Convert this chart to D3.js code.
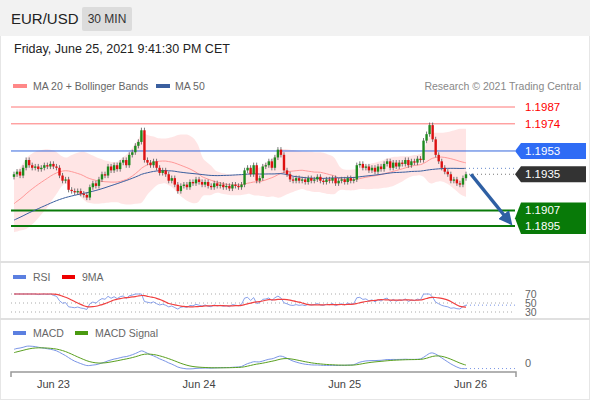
<!DOCTYPE html>
<html><head><meta charset="utf-8">
<script src="https://cdn.jsdelivr.net/npm/d3@7"></script>
<style>body{margin:0;background:#fff;font-family:"Liberation Sans",Arial,sans-serif}</style>
</head><body><svg id="c" width="590" height="400"></svg>
<script>
// closes before the visible window (used only for indicators)
const history=[1.1880,1.1882,1.1879,1.1884,1.1886,1.1883,1.1887,1.1889,1.1886,1.1888,
1.1890,1.1888,1.1891,1.1889,1.1892,1.1890,1.1893,1.1891,1.1894,1.1892,
1.1895,1.1893,1.1896,1.1894,1.1897,1.1895,1.1898,1.1896,1.1899,1.1897,
1.1900,1.1898,1.1901,1.1903,1.1900,1.1904,1.1902,1.1906,1.1905,1.1908,
1.1910,1.1912,1.1909,1.1914,1.1917,1.1915,1.1920,1.1924,1.1928,1.1933];
const closes=[1.1935,1.1937,1.1934,1.1940,1.1946,
1.1942,1.1940,1.1941,1.1939,1.1940,1.1942,1.1941,1.1943,1.1941,1.1940,
1.1934,1.1930,1.1931,1.1923,
1.1922,1.1921,1.1922,1.1920,1.1919,1.1917,
1.1925,1.1928,1.1926,1.1931,1.1935,
1.1934,1.1941,1.1938,1.1942,1.1939,1.1944,
1.1946,1.1942,1.1950,1.1952,1.1957,1.1960,1.1969,
1.1946,1.1944,1.1942,1.1945,1.1940,1.1936,1.1938,1.1935,
1.1930,1.1932,1.1927,
1.1922,1.1926,1.1927,1.1925,1.1929,1.1928,1.1931,1.1929,1.1927,1.1929,1.1926,1.1925,1.1928,1.1926,1.1927,1.1925,1.1926,1.1924,1.1927,1.1926,1.1925,1.1927,
1.1938,1.1940,1.1935,1.1942,1.1930,1.1932,1.1941,1.1942,
1.1945,1.1940,1.1948,1.1954,
1.1950,1.1938,1.1935,1.1931,
1.1930,1.1932,1.1930,1.1931,1.1929,1.1932,1.1930,1.1931,1.1933,1.1930,1.1929,1.1931,1.1930,1.1932,1.1928,1.1930,1.1931,1.1929,1.1932,1.1930,1.1931,
1.1942,1.1943,1.1940,1.1941,1.1938,1.1940,1.1937,1.1941,1.1939,1.1943,1.1945,1.1940,1.1944,1.1941,1.1944,
1.1943,1.1946,1.1942,1.1945,1.1944,1.1947,1.1946,
1.1961,1.1966,1.1973,1.1962,1.1950,
1.1945,1.1940,1.1937,1.1935,1.1930,1.1931,1.1928,1.1927,1.1932,1.1935];
const wick=0.0002;
const resist=[1.1987,1.1974];
const pivot=1.1953;
const lastPrice=1.1935;
const support=[1.1907,1.1895];
const dayLabels=["Jun 23","Jun 24","Jun 25","Jun 26"];
const dayIdx=[13,61,109,150.5];
const rsiLevels=[70,50,30];

const svg=d3.select("#c");
svg.append("rect").attr("x",0.5).attr("y",0.5).attr("width",589).attr("height",399).attr("fill","#fff").attr("stroke","#e6e6e6");
svg.append("rect").attr("x",0).attr("y",0).attr("width",590).attr("height",36).attr("fill","#f2f2f2");
svg.append("text").attr("x",11).attr("y",24).text("EUR/USD").attr("font-size",15).attr("fill","#222");
svg.append("rect").attr("x",82).attr("y",7).attr("width",50).attr("height",24).attr("fill","#dcdcdc").attr("rx",2);
svg.append("text").attr("x",107).attr("y",23).attr("text-anchor","middle").text("30 MIN").attr("font-size",12).attr("fill","#333");
svg.append("text").attr("x",14).attr("y",53).text("Friday, June 25, 2021 9:41:30 PM CET").attr("font-size",12.5).attr("fill","#222");
svg.append("rect").attr("x",13).attr("y",84).attr("width",14).attr("height",4).attr("fill","#f88");
svg.append("text").attr("x",33).attr("y",90).text("MA 20 + Bollinger Bands").attr("font-size",10.5).attr("fill","#666");
svg.append("rect").attr("x",156).attr("y",84).attr("width",14).attr("height",4).attr("fill","#3a5f9f");
svg.append("text").attr("x",175).attr("y",90).text("MA 50").attr("font-size",10.5).attr("fill","#666");
svg.append("text").attr("x",581).attr("y",90).attr("text-anchor","end").text("Research © 2021 Trading Central").attr("font-size",10.5).attr("fill","#888");

const n=closes.length, H=history.length;
const all=history.concat(closes);
const x=d3.scaleLinear().domain([0,n-1]).range([14,466]);
const y=d3.scaleLinear().domain([1.1895,1.1987]).range([226,107]);
const data=closes.map((c,i)=>{const o=all[H+i-1];return {i,o,c,h:Math.max(o,c)+wick,l:Math.min(o,c)-wick};});
function sma(p){return closes.map((c,i)=>d3.mean(all.slice(H+i-p+1,H+i+1)));}
const ma20=sma(20),ma50=sma(50);
const sd=closes.map((c,i)=>Math.max(d3.deviation(all.slice(H+i-19,H+i+1)),0.0004));
const band=d3.area().x((d,i)=>x(i)).y0((d,i)=>y(ma20[i]-2*sd[i])).y1((d,i)=>y(ma20[i]+2*sd[i])).curve(d3.curveBasis);
svg.append("path").datum(closes).attr("d",band).attr("fill","#ffdede").attr("opacity",0.8);
resist.forEach(v=>{svg.append("line").attr("x1",11).attr("x2",515).attr("y1",y(v)).attr("y2",y(v)).attr("stroke","#f77").attr("stroke-width",1);
 svg.append("text").attr("x",525).attr("y",y(v)+4).text(v.toFixed(4)).attr("fill","#f00").attr("font-size",11.5);});
svg.append("line").attr("x1",11).attr("x2",515).attr("y1",y(pivot)).attr("y2",y(pivot)).attr("stroke","#3366dd");
support.forEach(v=>svg.append("line").attr("x1",11).attr("x2",515).attr("y1",y(v)).attr("y2",y(v)).attr("stroke","#0a7a0a").attr("stroke-width",2.2));
function tag(y0,y1){return `M515,${(y0+y1)/2} L521,${y0} L586,${y0} L586,${y1} L521,${y1} Z`;}
svg.append("path").attr("d",tag(y(pivot)-8,y(pivot)+8)).attr("fill","#2f6cf5");
svg.append("text").attr("x",525).attr("y",y(pivot)+4).text(pivot.toFixed(4)).attr("fill","#fff").attr("font-size",11.5);
svg.append("path").attr("d",tag(y(lastPrice)-8,y(lastPrice)+8)).attr("fill","#333");
svg.append("text").attr("x",525).attr("y",y(lastPrice)+4).text(lastPrice.toFixed(4)).attr("fill","#fff").attr("font-size",11.5);
svg.append("path").attr("d",tag(y(support[0])-8,y(support[1])+8)).attr("fill","#087a08");
support.forEach(v=>svg.append("text").attr("x",525).attr("y",y(v)+4).text(v.toFixed(4)).attr("fill","#fff").attr("font-size",11.5));
svg.append("line").attr("x1",x(n-1)+3).attr("x2",515).attr("y1",y(lastPrice)).attr("y2",y(lastPrice)).attr("stroke","#777").attr("stroke-dasharray","1,3");
svg.append("line").attr("x1",x(n-1)+3).attr("x2",515).attr("y1",y(ma50[n-1])).attr("y2",y(ma50[n-1])).attr("stroke","#6688cc").attr("stroke-dasharray","1,3");
const ln=arr=>d3.line().x((d,i)=>x(i)).y(d=>y(d)).curve(d3.curveBasis)(arr);
svg.append("path").attr("d",ln(ma20)).attr("fill","none").attr("stroke","#f99").attr("stroke-width",1);
svg.append("path").attr("d",ln(ma50)).attr("fill","none").attr("stroke","#3a5f9f").attr("stroke-width",1);
const g=svg.append("g");
g.selectAll("line").data(data).join("line").attr("x1",d=>x(d.i)).attr("x2",d=>x(d.i)).attr("y1",d=>y(d.h)).attr("y2",d=>y(d.l)).attr("stroke","#555").attr("stroke-width",0.8);
g.selectAll("rect").data(data).join("rect").attr("x",d=>x(d.i)-1.2).attr("width",2.4)
 .attr("y",d=>y(Math.max(d.o,d.c))).attr("height",d=>Math.max(1,Math.abs(y(d.o)-y(d.c))))
 .attr("fill",d=>d.c>=d.o?"#1e8a1e":"#dd1111");
svg.append("defs").append("marker").attr("id","ah").attr("viewBox","0 0 10 10").attr("refX",5).attr("refY",5).attr("markerWidth",4).attr("markerHeight",4).attr("orient","auto")
 .append("path").attr("d","M0,0 L10,5 L0,10 Z").attr("fill","#2e5fa3");
svg.append("line").attr("x1",x(n-1)+5).attr("y1",y(lastPrice)).attr("x2",508).attr("y2",y(support[1])-6).attr("stroke","#2e5fa3").attr("stroke-width",3.5).attr("marker-end","url(#ah)");
[262,319].forEach(v=>svg.append("line").attr("x1",0).attr("x2",590).attr("y1",v).attr("y2",v).attr("stroke","#e0e0e0").attr("stroke-width",2));
// RSI
const rsiAll=[];let ag=0,al=0;
all.forEach((c,i)=>{if(i===0){rsiAll.push(50);return;}const d=c-all[i-1];const gn=Math.max(d,0),ls=Math.max(-d,0);
 if(i<=14){ag=(ag*(i-1)+gn)/i;al=(al*(i-1)+ls)/i;}else{ag=(ag*13+gn)/14;al=(al*13+ls)/14;}
 rsiAll.push(al===0?70:100-100/(1+ag/al));});
const rsi=rsiAll.slice(H);
const rsiMA=rsi.map((v,i)=>d3.mean(rsiAll.slice(H+i-8,H+i+1)));
const yr=d3.scaleLinear().domain([30,70]).range([312,294]).clamp(true);
rsiLevels.forEach(v=>{svg.append("line").attr("x1",11).attr("x2",515).attr("y1",yr(v)).attr("y2",yr(v)).attr("stroke","#aaa").attr("stroke-dasharray","1,3");
 svg.append("text").attr("x",525).attr("y",yr(v)+4).text(v).attr("font-size",10.5).attr("fill","#666");});
svg.append("rect").attr("x",13).attr("y",275).attr("width",13).attr("height",4).attr("fill","#5b7fe0");
svg.append("text").attr("x",33).attr("y",281).text("RSI").attr("font-size",10.5).attr("fill","#666");
svg.append("rect").attr("x",62).attr("y",275).attr("width",13).attr("height",4).attr("fill","#e00");
svg.append("text").attr("x",82).attr("y",281).text("9MA").attr("font-size",10.5).attr("fill","#666");
svg.append("path").attr("d",d3.line().x((d,i)=>x(i)).y(d=>yr(d))(rsi)).attr("fill","none").attr("stroke","#7a95e6").attr("stroke-width",0.9);
svg.append("path").attr("d",d3.line().x((d,i)=>x(i)).y(d=>yr(d)).curve(d3.curveBasis)(rsiMA)).attr("fill","none").attr("stroke","#f04040").attr("stroke-width",1.2);
svg.append("line").attr("x1",x(n-1)).attr("x2",515).attr("y1",yr(rsi[n-1])).attr("y2",yr(rsi[n-1])).attr("stroke","#7a95e6").attr("stroke-dasharray","1,3");
// MACD
function ema(arr,p){const k=2/(p+1);let e=arr[0];return arr.map(v=>e=v*k+e*(1-k));}
const e12=ema(all,12),e26=ema(all,26);
const macdAll=e12.map((v,i)=>v-e26[i]);const sigAll=ema(macdAll,9);
const macd=macdAll.slice(H),sig=sigAll.slice(H);
const ym=d3.scaleLinear().domain(d3.extent(macd.concat(sig))).range([369,346]);
svg.append("rect").attr("x",13).attr("y",331).attr("width",13).attr("height",4).attr("fill","#5b7fe0");
svg.append("text").attr("x",33).attr("y",337).text("MACD").attr("font-size",10.5).attr("fill","#666");
svg.append("rect").attr("x",75).attr("y",331).attr("width",13).attr("height",4).attr("fill","#4a9a10");
svg.append("text").attr("x",95).attr("y",337).text("MACD Signal").attr("font-size",10.5).attr("fill","#666");
svg.append("text").attr("x",525).attr("y",ym(0)+4).text("0").attr("font-size",11).attr("fill","#666");
const lm=arr=>d3.line().x((d,i)=>x(i)).y(d=>ym(d)).curve(d3.curveBasis)(arr);
svg.append("path").attr("d",lm(macd)).attr("fill","none").attr("stroke","#7a95e6").attr("stroke-width",1);
svg.append("path").attr("d",lm(sig)).attr("fill","none").attr("stroke","#5aa020").attr("stroke-width",1);
svg.append("line").attr("x1",x(n-1)).attr("x2",515).attr("y1",ym(macd[n-1])).attr("y2",ym(macd[n-1])).attr("stroke","#7a95e6").attr("stroke-dasharray","1,3");
svg.append("path").attr("d","M11,377 V372 H516 V377").attr("fill","none").attr("stroke","#999").attr("stroke-width",1.5);
dayLabels.forEach((t,k)=>svg.append("text").attr("x",x(dayIdx[k])).attr("y",388).attr("text-anchor","middle").text(t).attr("font-size",11).attr("fill","#444"));
</script></body></html>
